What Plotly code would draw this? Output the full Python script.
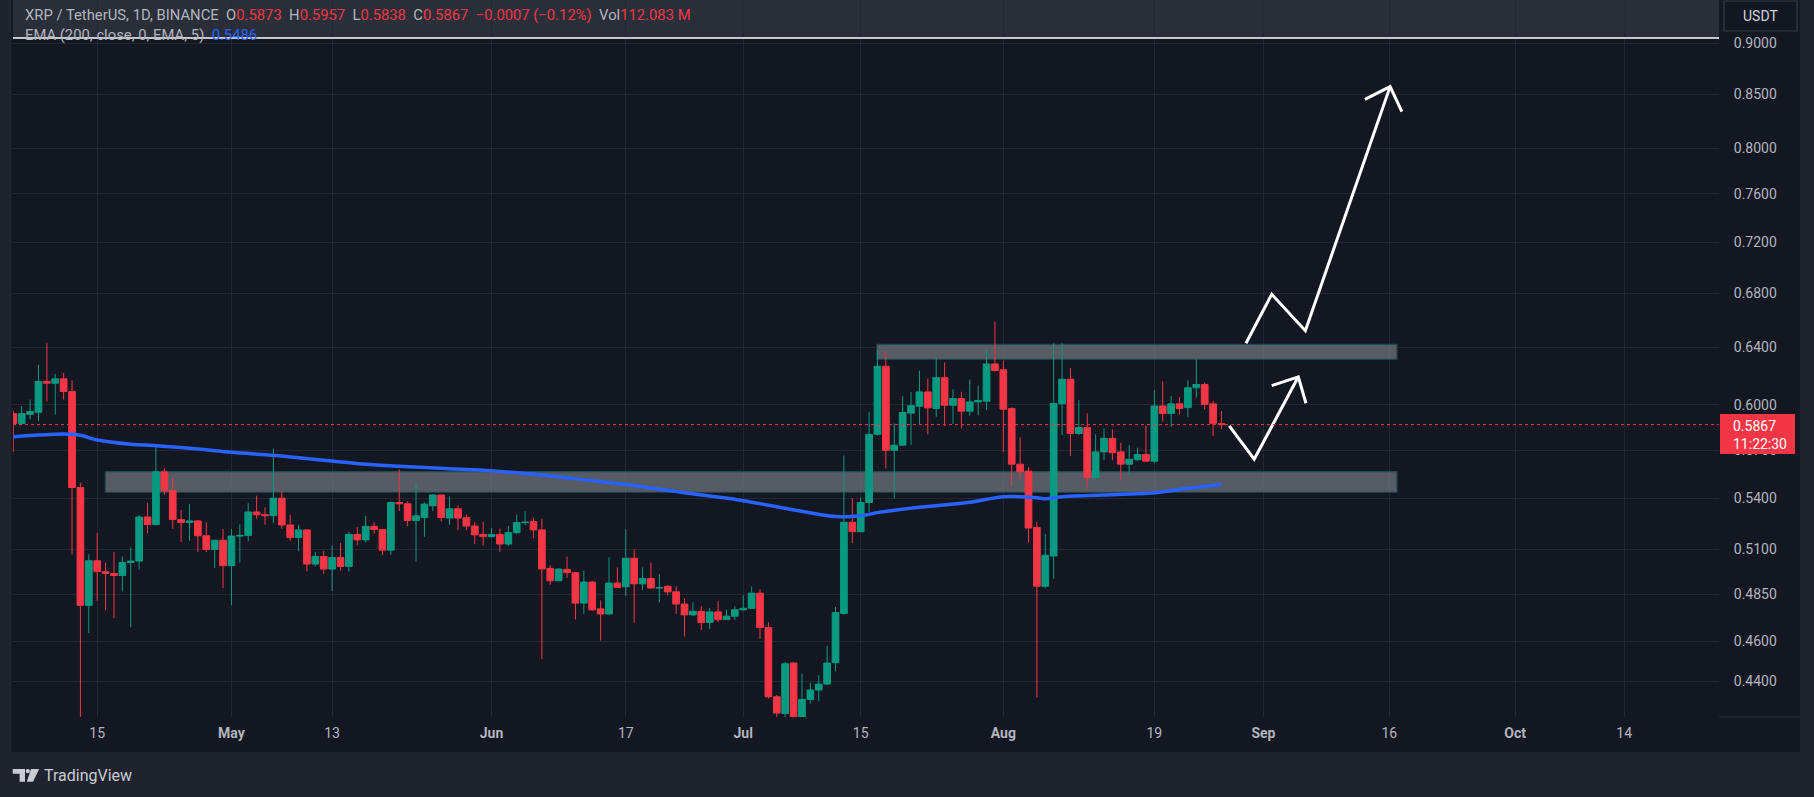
import numpy as np
import pandas as pd
import plotly.graph_objects as go

# ---------------- data ----------------
START_DATE = "2024-04-05"   # first (partly clipped) daily candle

opens = [0.5939, 0.5874, 0.5935, 0.5948, 0.6158, 0.6146, 0.6176, 0.6089, 0.5467, 0.4790,
         0.5036, 0.4975, 0.4964, 0.4953, 0.5026, 0.5034, 0.5289, 0.5244, 0.5564, 0.5448,
         0.5274, 0.5256, 0.5266, 0.5179, 0.5100, 0.5153, 0.5008, 0.5177, 0.5181, 0.5319,
         0.5303, 0.5297, 0.5402, 0.5242, 0.5169, 0.5213, 0.5017, 0.5060, 0.4989, 0.5054,
         0.5004, 0.5187, 0.5155, 0.5234, 0.5215, 0.5096, 0.5376, 0.5368, 0.5268, 0.5286,
         0.5356, 0.5421, 0.5283, 0.5338, 0.5285, 0.5236, 0.5187, 0.5174, 0.5187, 0.5131,
         0.5197, 0.5256, 0.5262, 0.5213, 0.4993, 0.4924, 0.4987, 0.4969, 0.4802, 0.4917,
         0.4771, 0.4744, 0.4911, 0.4891, 0.5050, 0.4907, 0.4937, 0.4884, 0.4893, 0.4863,
         0.4797, 0.4739, 0.4758, 0.4699, 0.4755, 0.4714, 0.4732, 0.4766, 0.4774, 0.4856,
         0.4672, 0.4323, 0.4242, 0.4490, 0.4150, 0.4310, 0.4356, 0.4385, 0.4492, 0.4746,
         0.5258, 0.5203, 0.5376, 0.5803, 0.6264, 0.5700, 0.5733, 0.5943, 0.5989, 0.6086,
         0.5974, 0.6184, 0.5996, 0.6041, 0.5956, 0.6018, 0.6023, 0.6280, 0.6239, 0.5974,
         0.5612, 0.5568, 0.5228, 0.4894, 0.5063, 0.6005, 0.6173, 0.5809, 0.5847, 0.5528,
         0.5690, 0.5777, 0.5690, 0.5612, 0.5640, 0.5673, 0.5631, 0.5991, 0.5941, 0.6005,
         0.5980, 0.6114, 0.6137, 0.6005, 0.5873]

highs = [0.5960, 0.5989, 0.6034, 0.6272, 0.6432, 0.6210, 0.6217, 0.6165, 0.5496, 0.5072,
         0.5195, 0.5026, 0.5085, 0.5060, 0.5112, 0.5301, 0.5372, 0.5722, 0.5585, 0.5526,
         0.5331, 0.5366, 0.5272, 0.5258, 0.5155, 0.5219, 0.5219, 0.5246, 0.5372, 0.5417,
         0.5346, 0.5710, 0.5444, 0.5303, 0.5242, 0.5216, 0.5085, 0.5091, 0.5124, 0.5136,
         0.5203, 0.5230, 0.5296, 0.5258, 0.5219, 0.5382, 0.5579, 0.5382, 0.5496, 0.5377,
         0.5427, 0.5421, 0.5413, 0.5357, 0.5304, 0.5260, 0.5260, 0.5221, 0.5221, 0.5236,
         0.5304, 0.5324, 0.5285, 0.5279, 0.5011, 0.4993, 0.5059, 0.4971, 0.4980, 0.4922,
         0.4817, 0.5054, 0.4998, 0.5217, 0.5100, 0.4998, 0.5026, 0.4961, 0.4900, 0.4893,
         0.4827, 0.4806, 0.4785, 0.4776, 0.4813, 0.4767, 0.4785, 0.4845, 0.4893, 0.4878,
         0.4700, 0.4332, 0.4495, 0.4495, 0.4436, 0.4392, 0.4429, 0.4578, 0.4781, 0.5668,
         0.5402, 0.5406, 0.5952, 0.6382, 0.6370, 0.5875, 0.6057, 0.6086, 0.6234, 0.6178,
         0.6325, 0.6291, 0.6105, 0.6087, 0.6171, 0.6128, 0.6382, 0.6585, 0.6302, 0.5982,
         0.5783, 0.5595, 0.5258, 0.5190, 0.6427, 0.6427, 0.6252, 0.6030, 0.5941, 0.5803,
         0.5842, 0.5836, 0.5748, 0.5733, 0.5717, 0.5860, 0.6098, 0.6157, 0.6057, 0.6050,
         0.6166, 0.6314, 0.6150, 0.6025, 0.5957]

lows = [0.5690, 0.5863, 0.5902, 0.5889, 0.6021, 0.5933, 0.6034, 0.5072, 0.4220, 0.4643,
        0.4816, 0.4763, 0.4722, 0.4865, 0.4673, 0.4986, 0.5193, 0.5240, 0.5423, 0.5219,
        0.5143, 0.5149, 0.5085, 0.5085, 0.4994, 0.4883, 0.4790, 0.5026, 0.5147, 0.5278,
        0.5244, 0.5254, 0.5219, 0.5149, 0.5091, 0.4975, 0.5004, 0.4962, 0.4868, 0.4981,
        0.4975, 0.5124, 0.5140, 0.5191, 0.5069, 0.5069, 0.5325, 0.5234, 0.5030, 0.5173,
        0.5325, 0.5262, 0.5242, 0.5211, 0.5211, 0.5131, 0.5123, 0.5168, 0.5085, 0.5120,
        0.5187, 0.5240, 0.5166, 0.4509, 0.4902, 0.4922, 0.4939, 0.4714, 0.4744, 0.4762,
        0.4604, 0.4740, 0.4884, 0.4841, 0.4697, 0.4874, 0.4882, 0.4806, 0.4845, 0.4744,
        0.4625, 0.4735, 0.4659, 0.4664, 0.4700, 0.4712, 0.4712, 0.4762, 0.4770, 0.4612,
        0.4315, 0.3830, 0.4180, 0.4100, 0.4060, 0.4290, 0.4300, 0.4380, 0.4449, 0.4740,
        0.5136, 0.5200, 0.5317, 0.5795, 0.5585, 0.5400, 0.5730, 0.5733, 0.5864, 0.5803,
        0.5919, 0.5858, 0.5871, 0.5842, 0.5926, 0.5930, 0.5963, 0.6227, 0.5690, 0.5475,
        0.5517, 0.5140, 0.4319, 0.4883, 0.4935, 0.5799, 0.5664, 0.5799, 0.5465, 0.5522,
        0.5637, 0.5637, 0.5511, 0.5548, 0.5631, 0.5627, 0.5618, 0.5886, 0.5853, 0.5934,
        0.5915, 0.6048, 0.5967, 0.5792, 0.5838]

closes = [0.5874, 0.5939, 0.5954, 0.6158, 0.6146, 0.6176, 0.6089, 0.5467, 0.4790, 0.5036,
          0.4975, 0.4964, 0.4953, 0.5026, 0.5034, 0.5289, 0.5244, 0.5564, 0.5448, 0.5274,
          0.5256, 0.5266, 0.5179, 0.5100, 0.5153, 0.5008, 0.5177, 0.5181, 0.5319, 0.5303,
          0.5297, 0.5402, 0.5242, 0.5169, 0.5213, 0.5017, 0.5060, 0.4989, 0.5054, 0.5004,
          0.5187, 0.5155, 0.5234, 0.5215, 0.5096, 0.5376, 0.5368, 0.5268, 0.5296, 0.5366,
          0.5421, 0.5286, 0.5338, 0.5283, 0.5236, 0.5184, 0.5174, 0.5187, 0.5131, 0.5197,
          0.5256, 0.5258, 0.5213, 0.4989, 0.4924, 0.4989, 0.4969, 0.4802, 0.4917, 0.4766,
          0.4744, 0.4911, 0.4887, 0.5050, 0.4907, 0.4937, 0.4884, 0.4886, 0.4863, 0.4797,
          0.4739, 0.4758, 0.4699, 0.4755, 0.4714, 0.4732, 0.4766, 0.4774, 0.4856, 0.4672,
          0.4323, 0.4245, 0.4486, 0.4150, 0.4310, 0.4356, 0.4385, 0.4490, 0.4751, 0.5258,
          0.5203, 0.5376, 0.5803, 0.6264, 0.5700, 0.5733, 0.5947, 0.5993, 0.6086, 0.5978,
          0.6184, 0.5996, 0.6041, 0.5956, 0.6018, 0.6027, 0.6280, 0.6234, 0.5969, 0.5612,
          0.5564, 0.5224, 0.4894, 0.5067, 0.6007, 0.6173, 0.5809, 0.5847, 0.5528, 0.5690,
          0.5777, 0.5685, 0.5612, 0.5643, 0.5673, 0.5631, 0.5991, 0.5941, 0.6005, 0.5974,
          0.6114, 0.6137, 0.6002, 0.5875, 0.5867]

dates = pd.date_range(START_DATE, periods=len(opens), freq="D")

# EMA(200)
ema_dates = ["2024-04-05", "2024-04-11", "2024-04-13", "2024-04-15", "2024-04-19", "2024-04-22",
             "2024-04-27", "2024-05-01", "2024-05-06", "2024-05-09", "2024-05-13", "2024-05-17",
             "2024-05-21", "2024-05-27", "2024-06-01", "2024-06-08", "2024-06-17", "2024-06-24",
             "2024-07-01", "2024-07-06", "2024-07-10", "2024-07-12", "2024-07-15", "2024-07-17",
             "2024-07-22", "2024-07-28", "2024-08-01", "2024-08-05", "2024-08-06", "2024-08-08",
             "2024-08-13", "2024-08-19", "2024-08-23", "2024-08-27"]
ema_values = [0.5788, 0.5805, 0.5797, 0.5766, 0.5739, 0.5730,
              0.5708, 0.5687, 0.5668, 0.5653, 0.5632, 0.5611,
              0.5599, 0.5584, 0.5571, 0.5538, 0.5485, 0.5435,
              0.5387, 0.5341, 0.5305, 0.5292, 0.5296, 0.5315,
              0.5347, 0.5377, 0.5411, 0.5405, 0.5398, 0.5411,
              0.5421, 0.5435, 0.5462, 0.5486]

# drawings
upper_zone_dates = ["2024-07-16 22:20", "2024-09-16 22:05"]
upper_zone_prices = [0.6313, 0.6420]
lower_zone_dates = ["2024-04-15 23:15", "2024-09-16 22:05"]
lower_zone_prices = [0.5438, 0.5565]

small_path_dates = ["2024-08-27 22:20", "2024-08-30 21:36", "2024-09-05 03:50"]
small_path_prices = [0.5859, 0.5643, 0.6190]
small_head_dates = ["2024-09-01 23:45", "2024-09-05 03:50", "2024-09-06 01:40"]
small_head_prices = [0.6129, 0.6190, 0.6009]
big_path_dates = ["2024-08-29 22:05", "2024-09-01 23:45", "2024-09-06 00:00", "2024-09-16 02:24"]
big_path_prices = [0.6427, 0.6791, 0.6519, 0.8572]
big_head_dates = ["2024-09-13 02:24", "2024-09-16 02:24", "2024-09-17 12:00"]
big_head_prices = [0.8451, 0.8572, 0.8334]

top_line_price = 0.9053
last_price = 0.5867

y_tick_vals = [0.44, 0.46, 0.485, 0.51, 0.54, 0.57, 0.60, 0.64, 0.68, 0.72, 0.76, 0.80, 0.85, 0.90]
y_tick_text = ["0.4400", "0.4600", "0.4850", "0.5100", "0.5400", "0.5700", "0.6000", "0.6400",
               "0.6800", "0.7200", "0.7600", "0.8000", "0.8500", "0.9000"]
x_tick_vals = ["2024-04-15", "2024-05-01", "2024-05-13", "2024-06-01", "2024-06-17", "2024-07-01",
               "2024-07-15", "2024-08-01", "2024-08-19", "2024-09-01", "2024-09-16", "2024-10-01",
               "2024-10-14"]
x_tick_text = ["15", "<b>May</b>", "13", "<b>Jun</b>", "17", "<b>Jul</b>", "15", "<b>Aug</b>", "19",
               "<b>Sep</b>", "16", "<b>Oct</b>", "14"]

X_RANGE = ["2024-04-04 23:08", "2024-10-25 07:12"]
Y_RANGE_PRICES = [0.4226, 0.9447]

# ---------------- style ----------------
W, H = 1814, 797
PL, PR, PT, PB = 13, 1719, 0, 717
UP, DOWN, BLUE = "#089981", "#F23645", "#2962FF"
PANE, FRAME, GRID, TXT = "#131722", "#1F232E", "#232733", "#B2B5BE"
FONT = "Roboto"


def px(x):
    return (x - PL) / (PR - PL)


def py(y):
    return (PB - y) / (PB - PT)


fig = go.Figure()

fig.add_trace(go.Candlestick(
    x=dates, open=opens, high=highs, low=lows, close=closes,
    increasing=dict(line=dict(color=UP, width=1), fillcolor=UP),
    decreasing=dict(line=dict(color=DOWN, width=1), fillcolor=DOWN),
    whiskerwidth=0, hoverinfo="skip", showlegend=False))

fig.add_trace(go.Scatter(x=ema_dates, y=ema_values, mode="lines",
                         line=dict(color=BLUE, width=3.5, shape="spline", smoothing=0.8),
                         hoverinfo="skip", showlegend=False))

for xs, ys in [(small_path_dates, small_path_prices), (small_head_dates, small_head_prices),
               (big_path_dates, big_path_prices), (big_head_dates, big_head_prices)]:
    fig.add_trace(go.Scatter(x=xs, y=ys, mode="lines", line=dict(color="white", width=3),
                             hoverinfo="skip", showlegend=False))

shapes = []
# pane background (chart + axes)
shapes.append(dict(type="rect", xref="paper", yref="paper", x0=px(11.5), x1=px(1800),
                   y0=py(752), y1=py(0), fillcolor=PANE, line=dict(width=0), layer="below"))
# header band above the white line
shapes.append(dict(type="rect", xref="paper", yref="y", x0=0, x1=1, y0=top_line_price, y1=2.0,
                   fillcolor="#2A2E39", line=dict(width=0), layer="between"))
# zones
for zd, zp in [(upper_zone_dates, upper_zone_prices), (lower_zone_dates, lower_zone_prices)]:
    shapes.append(dict(type="rect", xref="x", yref="y", x0=zd[0], x1=zd[1], y0=zp[0], y1=zp[1],
                       fillcolor="rgba(125,128,136,0.65)", line=dict(color="#1E4A55", width=1.2),
                       layer="between"))
# last price dotted line
shapes.append(dict(type="line", xref="paper", yref="y", x0=0, x1=1, y0=last_price, y1=last_price,
                   line=dict(color=DOWN, width=1, dash="dot"), layer="above"))
# white horizontal line at top
shapes.append(dict(type="line", xref="paper", yref="y", x0=0, x1=1, y0=top_line_price,
                   y1=top_line_price, line=dict(color="white", width=1.5), layer="above"))
# USDT box
shapes.append(dict(type="rect", xref="paper", yref="paper", x0=px(1724), x1=px(1797),
                   y0=py(31), y1=py(1), fillcolor="#131722", line=dict(color="#363A45", width=1.2),
                   layer="above"))
# last price label box
shapes.append(dict(type="rect", xref="paper", yref="paper", x0=px(1720), x1=px(1795),
                   y0=py(454), y1=py(414), fillcolor=DOWN, line=dict(width=0), layer="above"))
# price axis bottom separator
shapes.append(dict(type="line", xref="paper", yref="paper", x0=px(1719), x1=px(1800),
                   y0=py(717), y1=py(717), line=dict(color="#2A2E39", width=1), layer="above"))


# TradingView logo
def path(pts):
    return "M " + " L ".join(f"{px(a):.5f},{py(b):.5f}" for a, b in pts) + " Z"


LOGO = "#C9CCD3"
shapes.append(dict(type="path", xref="paper", yref="paper",
                   path=path([(12.7, 769), (25, 769), (25, 781.7), (19.6, 781.7), (19.6, 773.8), (12.7, 773.8)]),
                   fillcolor=LOGO, line=dict(width=0)))
shapes.append(dict(type="circle", xref="paper", yref="paper", x0=px(25.6), x1=px(30.0),
                   y0=py(773.3), y1=py(768.9), fillcolor=LOGO, line=dict(width=0)))
shapes.append(dict(type="path", xref="paper", yref="paper",
                   path=path([(31.0, 769), (39.2, 769), (33.0, 781.7), (26.8, 781.7)]),
                   fillcolor=LOGO, line=dict(width=0)))

red = lambda s: f"<span style='color:{DOWN}'>{s}</span>"
NB = "\u00a0"
line1 = ("XRP / TetherUS, 1D, BINANCE" + NB * 2 + "O" + red("0.5873") + NB * 2 + "H" + red("0.5957")
         + NB * 2 + "L" + red("0.5838") + NB * 2 + "C" + red("0.5867") + NB * 2 + red("−0.0007 (−0.12%)")
         + NB * 2 + "Vol" + red("112.083" + NB + "M"))
line2 = "EMA (200, close, 0, EMA, 5)" + NB * 2 + f"<span style='color:{BLUE}'>0.5486</span>"

ann = []
ann.append(dict(xref="paper", yref="paper", x=px(22.7), y=py(15), text=line1, showarrow=False,
                xanchor="left", yanchor="middle", font=dict(family=FONT, size=14.8, color=TXT)))
ann.append(dict(xref="paper", yref="paper", x=px(22.7), y=py(35.3), text=line2, showarrow=False,
                xanchor="left", yanchor="middle", font=dict(family=FONT, size=14.8, color=TXT)))
ann.append(dict(xref="paper", yref="paper", x=px(1760.5), y=py(16), text="USDT", showarrow=False,
                xanchor="center", yanchor="middle", font=dict(family=FONT, size=14, color="#D1D4DC")))
ann.append(dict(xref="paper", yref="paper", x=px(1731), y=py(425.5), text=f"{last_price:.4f}",
                showarrow=False, xanchor="left", yanchor="middle",
                font=dict(family=FONT, size=14, color="white")))
ann.append(dict(xref="paper", yref="paper", x=px(1731), y=py(444), text="11:22:30",
                showarrow=False, xanchor="left", yanchor="middle",
                font=dict(family=FONT, size=14, color="white")))
ann.append(dict(xref="paper", yref="paper", x=px(41.5), y=py(775.5), text="TradingView",
                showarrow=False, xanchor="left", yanchor="middle",
                font=dict(family=FONT, size=16, color=LOGO)))

fig.update_layout(
    width=W, height=H,
    margin=dict(l=PL, r=W - PR, t=PT, b=H - PB, pad=0),
    paper_bgcolor=FRAME, plot_bgcolor="rgba(0,0,0,0)",
    boxgap=0.2, boxgroupgap=0,
    showlegend=False,
    shapes=shapes, annotations=ann,
    xaxis=dict(type="date", range=X_RANGE, tickvals=x_tick_vals, ticktext=x_tick_text,
               showgrid=True, gridcolor=GRID, gridwidth=1, zeroline=False, showline=False,
               ticks="outside", ticklen=3, tickcolor="rgba(0,0,0,0)",
               tickfont=dict(family=FONT, size=14, color=TXT),
               rangeslider=dict(visible=False), fixedrange=True),
    yaxis=dict(type="log", range=[np.log10(Y_RANGE_PRICES[0]), np.log10(Y_RANGE_PRICES[1])],
               side="right", tickvals=y_tick_vals, ticktext=y_tick_text,
               showgrid=True, gridcolor=GRID, gridwidth=1, zeroline=False, showline=False,
               ticks="outside", ticklen=11, tickcolor="rgba(0,0,0,0)",
               tickfont=dict(family=FONT, size=14, color=TXT), fixedrange=True),
)

fig.write_html("out.html", config={"displayModeBar": False},
               post_script="document.body.style.margin='0';document.body.style.overflow='hidden';")
